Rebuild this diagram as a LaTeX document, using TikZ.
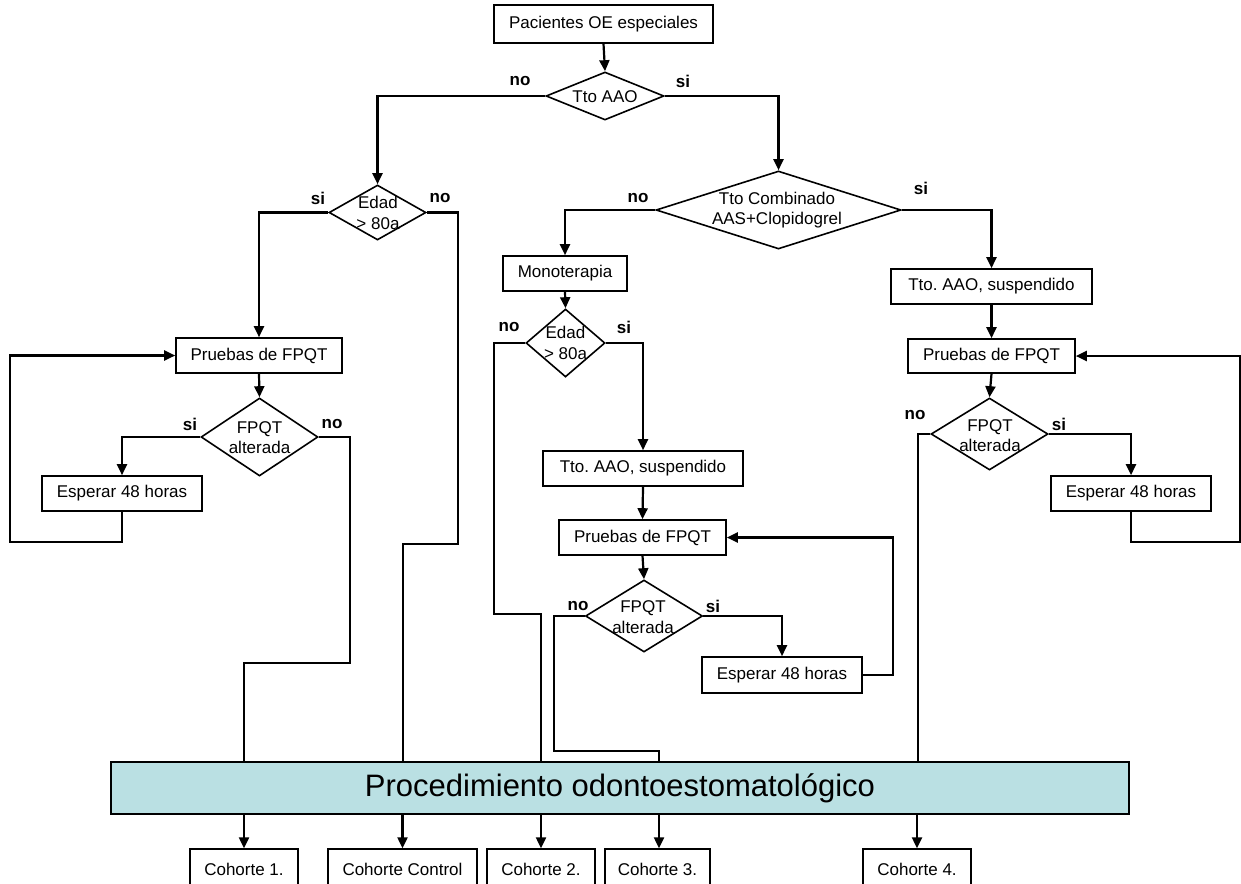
\documentclass[tikz,border=0pt]{standalone}
\usepackage{fontspec}
\setmainfont{Liberation Sans}
\usetikzlibrary{arrows.meta,shapes.geometric}
\definecolor{procfill}{RGB}{186,224,227}
\begin{document}
\begin{tikzpicture}[x=1pt,y=-1pt,
  every node/.style={font=\fontsize{17}{20}\selectfont\frenchspacing},
  box/.style={draw, line width=1.6pt, inner sep=0pt, minimum height=35pt},
  dia/.style={draw, diamond, line width=1.6pt, inner sep=0pt},
  dtext/.style={align=center, inner sep=0pt, font=\fontsize{17}{20.5}\selectfont},
  lab/.style={inner sep=0pt, font=\fontsize{17}{20}\selectfont\bfseries},
  con/.style={line width=2.2pt},
  arr/.style={line width=2.2pt, -{Triangle[length=11pt,width=10pt]}},
  coh/.style={draw, line width=1.4pt, inner sep=0pt, minimum height=40pt, minimum width=108pt}
]
\useasboundingbox (0,0) rectangle (1241,883);
\clip (0,0) rectangle (1241,883);

% boxes
\node[box, minimum width=219pt, minimum height=38pt] (pac) at (603.5,24) {Pacientes OE especiales};
\node[box, minimum width=166pt] (pL) at (259,355.5) {Pruebas de FPQT};
\node[box, minimum width=160pt] (eWL) at (122,493.5) {Esperar 48 horas};
\node[box, minimum width=124pt] (mono) at (565,273.5) {Monoterapia};
\node[box, minimum width=200pt] (tsM) at (643,468.5) {Tto. AAO, suspendido};
\node[box, minimum width=167pt] (pM) at (642.5,537.5) {Pruebas de FPQT};
\node[box, minimum width=160pt, minimum height=36pt] (eWM) at (782,675) {Esperar 48 horas};
\node[box, minimum width=201pt] (tsR) at (991.5,286.5) {Tto. AAO, suspendido};
\node[box, minimum width=167pt, minimum height=34pt] (pR) at (991.5,356) {Pruebas de FPQT};
\node[box, minimum width=160pt] (eWR) at (1131,493.5) {Esperar 48 horas};
\node[draw, line width=1.8pt, fill=procfill, inner sep=0pt, minimum width=1018pt, minimum height=52pt,
      font=\fontsize{31}{36}\selectfont] (proc) at (620,788) {Procedimiento odontoestomatológico};
\node[coh] (c1) at (244,869) {Cohorte 1.};
\node[coh, minimum width=149pt] (cC) at (402.5,869) {Cohorte Control};
\node[coh] (c2) at (541,869) {Cohorte 2.};
\node[coh, minimum width=105pt] (c3) at (657.5,869) {Cohorte 3.};
\node[coh] (c4) at (917,869) {Cohorte 4.};

% diamonds
\node[dia, minimum width=118pt, minimum height=48pt] (d0) at (605,96) {};
\node[dtext] (t0) at (605,97) {Tto AAO};
\node[dia, minimum width=245pt, minimum height=78pt] (dC) at (778.5,210) {};
\node[dtext] (tC) at (777,210) {Tto Combinado\\AAS+Clopidogrel};
\node[dia, minimum width=97pt, minimum height=55pt] (eL) at (377.5,212.5) {};
\node[dtext] (teL) at (378,213) {Edad\\> 80a};
\node[dia, minimum width=79pt, minimum height=68pt] (eM) at (565.5,343) {};
\node[dtext] (teM) at (565.5,343) {Edad\\> 80a};
\node[dia, minimum width=117pt, minimum height=78pt] (fL) at (259.5,437) {};
\node[dtext] (tfL) at (259.5,437.5) {FPQT\\alterada};
\node[dia, minimum width=117pt, minimum height=72pt] (fM) at (644,616) {};
\node[dtext] (tfM) at (643,617) {FPQT\\alterada};
\node[dia, minimum width=117pt, minimum height=72pt] (fR) at (989.5,434) {};
\node[dtext] (tfR) at (990,435.5) {FPQT\\alterada};

% labels
\node[lab] (l1) at (520,81) {no};
\node[lab] (l2) at (683,81) {si};
\node[lab] (l3) at (638,198) {no};
\node[lab] (l4) at (921,188) {si};
\node[lab] (l5) at (318,198) {si};
\node[lab] (l6) at (440,198) {no};
\node[lab] (l7) at (190,424) {si};
\node[lab] (l8) at (332,424) {no};
\node[lab] (l9) at (509,327) {no};
\node[lab] (l10) at (624,327) {si};
\node[lab] (l11) at (578,606) {no};
\node[lab] (l12) at (713,606) {si};
\node[lab] (l13) at (915,415) {no};
\node[lab] (l14) at (1059,424) {si};

% helper coordinates
\coordinate (k1) at (458,544);
\coordinate (k2) at (403,544);
\coordinate (k3) at (122,542);
\coordinate (k4) at (10,542);
\coordinate (k5) at (350,663);
\coordinate (k6) at (244,663);
\coordinate (k7) at (494,614);
\coordinate (k8) at (541,614);
\coordinate (k9) at (893,675);
\coordinate (k10) at (554,751);
\coordinate (k11) at (659,751);
\coordinate (k12) at (1131,542);
\coordinate (k13) at (1240,542);
\coordinate (k14) at (918,434);

% connectors
\draw[arr] (pac.south) -- (d0.north);
\draw[arr] (d0.west) -| (eL.north);
\draw[arr] (d0.east) -| (dC.north);
\draw[arr] (dC.west) -| (mono.north);
\draw[arr] (dC.east) -| (tsR.north);

% left branch
\draw[arr] (eL.west) -| (pL.north);
\draw[con] (eL.east) -| (k1) -- (k2) -- (k2 |- proc.north);
\draw[arr] (pL.south) -- (fL.north);
\draw[arr] (fL.west) -| (eWL.north);
\draw[arr] (eWL.south) -- (k3) -- (k4) |- (pL.west);
\draw[con] (fL.east) -| (k5) -- (k6) -- (k6 |- proc.north);

% middle branch
\draw[arr] (mono.south) -- (eM.north);
\draw[con] (eM.west) -| (k7) -- (k8) -- (k8 |- proc.north);
\draw[arr] (eM.east) -| (tsM.north);
\draw[arr] (tsM.south) -- (pM.north);
\draw[arr] (pM.south) -- (fM.north);
\draw[arr] (fM.east) -| (eWM.north);
\draw[arr] (eWM.east) -- (k9) |- (pM.east);
\draw[con] (fM.west) -| (k10) -- (k11) -- (k11 |- proc.north);

% right branch
\draw[arr] (tsR.south) -- (pR.north);
\draw[arr] (pR.south) -- (fR.north);
\draw[arr] (fR.east) -| (eWR.north);
\draw[arr] (eWR.south) -- (k12) -- (k13) |- (pR.east);
\draw[con] (fR.west) -- (k14) -- (k14 |- proc.north);

% to cohorts
\draw[arr] (proc.south -| c1.north) -- (c1.north);
\draw[arr] (proc.south -| cC.north) -- (cC.north);
\draw[arr] (proc.south -| c2.north) -- (c2.north);
\draw[arr] (proc.south -| k11) -- (k11 |- c3.north);
\draw[arr] (proc.south -| c4.north) -- (c4.north);
\end{tikzpicture}
\end{document}
